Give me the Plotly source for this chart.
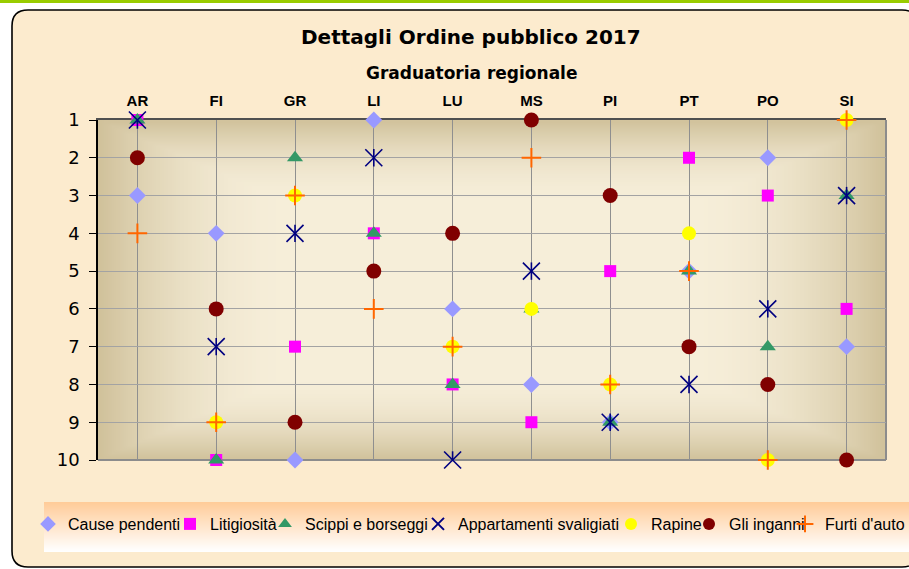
import base64, struct, zlib
import plotly.graph_objects as go

# ---------------- data ----------------
provinces = ["AR", "FI", "GR", "LI", "LU", "MS", "PI", "PT", "PO", "SI"]
cause_pendenti = [3, 4, 10, 1, 6, 8, 9, 5, 2, 7]
litigiosita = [1, 10, 7, 4, 8, 9, 5, 2, 3, 6]
scippi_borseggi = [1, 10, 2, 4, 8, 6, 9, 5, 7, 3]
appartamenti = [1, 7, 4, 2, 10, 5, 9, 8, 6, 3]
rapine = [2, 9, 3, 5, 7, 6, 8, 4, 10, 1]
inganni = [2, 6, 9, 5, 4, 1, 3, 7, 8, 10]
furti_auto = [4, 9, 3, 6, 7, 2, 8, 5, 10, 1]
rank_ticks = list(range(1, 11))

W, H = 909, 569
PL, PR, PT_, PB = 98, 886, 120, 460  # plot area in px


def X(px):
    return (px - PL) / (PR - PL)


def Y(py):
    return (PB - py) / (PB - PT_)


# ------------- small png helper for gradients -------------
def png_uri(w, h, fn):
    raw = bytearray()
    for j in range(h):
        raw.append(0)
        for i in range(w):
            raw += bytes(fn(i, j))

    def chunk(tag, data):
        c = struct.pack(">I", len(data)) + tag + data
        return c + struct.pack(">I", zlib.crc32(tag + data) & 0xffffffff)

    png = (b"\x89PNG\r\n\x1a\n"
           + chunk(b"IHDR", struct.pack(">IIBBBBB", w, h, 8, 2, 0, 0, 0))
           + chunk(b"IDAT", zlib.compress(bytes(raw), 9))
           + chunk(b"IEND", b""))
    return "data:image/png;base64," + base64.b64encode(png).decode()


def lerp(c1, c2, s):
    return tuple(int(round(a + (b - a) * s)) for a, b in zip(c1, c2))


center_c = (0xF6, 0xEE, 0xD9)
edge_c = (0xD0, 0xC1, 0x9A)
GW, GH = 197, 85


def plot_grad(i, j):
    u = abs((i + 0.5) / GW * 2 - 1)
    v = abs((j + 0.5) / GH * 2 - 1)
    t = max(u, v)
    s = max(0.0, min(1.0, (t - 0.5) / 0.5)) ** 2
    return lerp(center_c, edge_c, s)


LGW, LGH = 4, 50


def legend_grad(i, j):
    s = j / (LGH - 1)
    return lerp((0xFF, 0xCC, 0x99), (0xFF, 0xFF, 0xFF), s)


plot_img = png_uri(GW, GH, plot_grad)
leg_img = png_uri(LGW, LGH, legend_grad)

# ---------------- traces ----------------
fig = go.Figure()

series = [
    ("Cause pendenti", cause_pendenti, "diamond", "#9999FF", 13, "legend"),
    ("Litigiosità", litigiosita, "square", "#FF00FF", 12, "legend2"),
    ("Scippi e borseggi", scippi_borseggi, "triangle-up", "#339966", 14, "legend3"),
]
for name, vals, sym, col, size, leg in series:
    fig.add_trace(go.Scatter(x=provinces, y=vals, mode="markers", name=name,
                             marker=dict(symbol=sym, color=col, size=size, line=dict(width=0)),
                             cliponaxis=False, legend=leg, showlegend=True, hoverinfo="skip"))

# star marker: X symbol plus a short vertical stroke (drawn as a symmetric error bar)
fig.add_trace(go.Scatter(x=provinces, y=appartamenti, mode="markers", name="Appartamenti svaligiati",
                         marker=dict(symbol="x-thin-open", size=17, color="#000080",
                                     line=dict(color="#000080", width=1.6)),
                         error_y=dict(type="constant", value=0.23, symmetric=True, width=0,
                                      thickness=1.6, color="#000080"),
                         cliponaxis=False, legend="legend4", hoverinfo="skip"))

fig.add_trace(go.Scatter(x=provinces, y=rapine, mode="markers", name="Rapine",
                         marker=dict(symbol="circle", color="#FFFF00", size=14, line=dict(width=0)),
                         cliponaxis=False, legend="legend5", hoverinfo="skip"))
fig.add_trace(go.Scatter(x=provinces, y=inganni, mode="markers", name="Gli inganni",
                         marker=dict(symbol="circle", color="#800000", size=15, line=dict(width=0)),
                         cliponaxis=False, legend="legend6", hoverinfo="skip"))
fig.add_trace(go.Scatter(x=provinces, y=furti_auto, mode="markers", name="Furti d'auto",
                         marker=dict(symbol="cross-thin-open", size=14, color="#FF6600",
                                     line=dict(color="#FF6600", width=2)),
                         cliponaxis=False, legend="legend7", hoverinfo="skip"))

# ---------------- legends (placed in container coordinates) ----------------
text_starts = [66, 208, 303, 456, 649, 727, 823]
leg_font = dict(family="Liberation Sans, Arial, sans-serif", size=16, color="#000000")
leg_names = ["legend", "legend2", "legend3", "legend4", "legend5", "legend6", "legend7"]
leg_layout = {}
for ln, ts in zip(leg_names, text_starts):
    leg_layout[ln] = dict(x=(ts - 38) / W, y=1 - 524 / H, xref="container", yref="container",
                          xanchor="left", yanchor="middle", visible=True,
                          orientation="h", bgcolor="rgba(0,0,0,0)", borderwidth=0,
                          font=leg_font, itemsizing="constant")

# ---------------- shapes ----------------
def rr_path(x0, y0, x1, y1, r):
    pts = [
        ("M", (x0 + r, y0)), ("L", (x1 - r, y0)), ("Q", (x1, y0), (x1, y0 + r)),
        ("L", (x1, y1 - r)), ("Q", (x1, y1), (x1 - r, y1)), ("L", (x0 + r, y1)),
        ("Q", (x0, y1), (x0, y1 - r)), ("L", (x0, y0 + r)), ("Q", (x0, y0), (x0 + r, y0)),
    ]
    s = ""
    for p in pts:
        cmd = p[0]
        coords = " ".join(f"{X(a):.5f},{Y(b):.5f}" for a, b in p[1:])
        s += f"{cmd}{coords} "
    return s + "Z"


outer = rr_path(12, 10, 918, 567, 16)
hole = (f"M{X(PL):.5f},{Y(PT_):.5f} L{X(PR):.5f},{Y(PT_):.5f} "
        f"L{X(PR):.5f},{Y(PB):.5f} L{X(PL):.5f},{Y(PB):.5f} Z")

shapes = [
    dict(type="rect", xref="paper", yref="paper", x0=X(0), x1=X(909), y0=Y(3), y1=Y(0),
         fillcolor="#99CC00", line=dict(width=0), layer="below"),
    dict(type="path", xref="paper", yref="paper", path=outer + " " + hole, fillcolor="#FCEBCE",
         line=dict(width=0), layer="below", fillrule="evenodd"),
    dict(type="path", xref="paper", yref="paper", path=outer, fillcolor="rgba(0,0,0,0)",
         line=dict(color="#000000", width=1.6), layer="below"),
    # bottom and right plot borders
    dict(type="line", xref="paper", yref="paper", x0=0, x1=1, y0=0, y1=0,
         line=dict(color="#8C8C8C", width=2), layer="below"),
    dict(type="line", xref="paper", yref="paper", x0=1, x1=1, y0=0, y1=1,
         line=dict(color="#8C8C8C", width=2), layer="below"),
]

images = [
    dict(source=plot_img, xref="paper", yref="paper", x=0, y=1, sizex=1, sizey=1,
         xanchor="left", yanchor="top", sizing="stretch", layer="below"),
    dict(source=leg_img, xref="paper", yref="paper", x=X(44), y=Y(502),
         sizex=X(930) - X(44), sizey=Y(502) - Y(552),
         xanchor="left", yanchor="top", sizing="stretch", layer="above"),
]

title_font = "DejaVu Sans, sans-serif"
annotations = [
    dict(text="<b>Dettagli Ordine pubblico 2017</b>", xref="paper", yref="paper",
         x=X(471), y=Y(37), xanchor="center", yanchor="middle", showarrow=False,
         font=dict(family=title_font, size=20, color="#000000")),
    dict(text="<b>Graduatoria regionale</b>", xref="paper", yref="paper",
         x=X(471), y=Y(73), xanchor="center", yanchor="middle", showarrow=False,
         font=dict(family=title_font, size=17, color="#000000")),
]

fig.update_layout(
    width=W, height=H, autosize=False, showlegend=True,
    margin=dict(l=PL, r=W - PR, t=PT_, b=H - PB, pad=0, autoexpand=False),
    paper_bgcolor="#FFFFFF", plot_bgcolor="rgba(0,0,0,0)",
    shapes=shapes, images=images, annotations=annotations,
    xaxis=dict(type="category", categoryorder="array", categoryarray=provinces,
               range=[-0.5, 9.5], side="top", showgrid=True, gridcolor="#8F8F8F", gridwidth=1,
               showline=True, linecolor="#505050", linewidth=2, ticks="", layer="below traces",
               tickfont=dict(family="Liberation Sans, Arial, sans-serif", size=15, color="#000000",
                             weight="bold"),
               ticklabelstandoff=6, zeroline=False, fixedrange=True, automargin=False),
    yaxis=dict(range=[10, 1], tickvals=rank_ticks, ticktext=[str(v) for v in rank_ticks],
               showgrid=True, gridcolor="#A3A3A3", gridwidth=1, zeroline=False,
               showline=True, linecolor="#000000", linewidth=1.5, ticks="outside", ticklen=7,
               tickcolor="#000000", tickwidth=1, layer="below traces",
               tickfont=dict(family=title_font, size=18, color="#000000"),
               ticklabelstandoff=6, fixedrange=True, automargin=False),
    **leg_layout,
)

fig.write_html("out.html", config={"displayModeBar": False},
               post_script="document.body.style.margin='0';document.body.style.overflow='hidden';")
